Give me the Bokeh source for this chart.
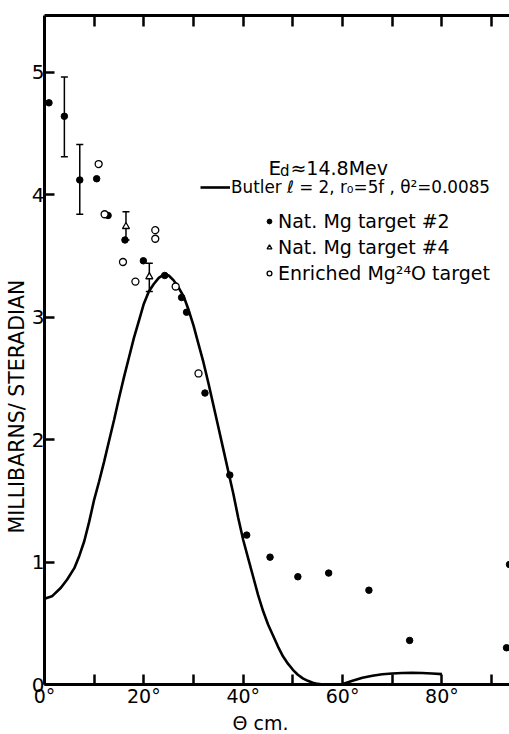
from bokeh.plotting import figure
from bokeh.models import (Range1d, LinearAxis, FixedTicker, Whisker, TeeHead,
                          ColumnDataSource, Legend, LegendItem, Label, Title)
from bokeh.embed import file_html
from bokeh.resources import INLINE

FONT = "DejaVu Sans"

# Nat. Mg target #2 (filled circles)
nat2_x = [0.9, 4.0, 7.1, 10.5, 12.8, 16.2, 19.9, 24.2, 27.6, 28.6, 32.3, 37.3,
          40.7, 45.4, 51.0, 57.2, 65.3, 73.5, 93.0, 93.6]
nat2_y = [4.75, 4.64, 4.12, 4.13, 3.83, 3.63, 3.46, 3.34, 3.16, 3.04, 2.38, 1.71,
          1.22, 1.04, 0.88, 0.91, 0.77, 0.36, 0.30, 0.98]
nat2_err_x = [4.0, 7.1]
nat2_err_lo = [4.31, 3.84]
nat2_err_hi = [4.96, 4.41]

# Nat. Mg target #4 (open triangles)
nat4_x = [16.4, 21.1]
nat4_y = [3.74, 3.33]
nat4_err_lo = [3.63, 3.21]
nat4_err_hi = [3.86, 3.44]

# Enriched Mg24O target (open circles)
enr_x = [10.9, 12.1, 15.8, 18.3, 22.3, 22.3, 26.4, 31.0]
enr_y = [4.25, 3.84, 3.45, 3.29, 3.71, 3.64, 3.25, 2.54]

# Butler l=2 curve
butler_x = [0, 1.5, 3.3, 4.6, 6.0, 7.0, 8.0, 9.0, 10.0, 11.0, 12.0, 13.0, 14.0,
            15.0, 16.0, 17.0, 18.0, 19.0, 20.0, 21.0, 22.0, 23.0, 24.1, 25.0,
            26.0, 27.0, 28.0, 29.0, 30.0, 31.0, 32.0, 33.0, 34.0, 35.0, 36.0,
            37.0, 38.0, 39.0, 40.0, 41.0, 42.0, 43.0, 44.0, 45.0, 46.0, 47.0,
            48.0, 49.0, 50.0, 51.0, 52.0, 53.0, 54.0, 55.0, 56.0, 59.8, 60.5,
            62.0, 64.0, 66.0, 68.0, 70.0, 72.0, 74.0, 76.0, 78.0, 80.0]
butler_y = [0.70, 0.72, 0.79, 0.86, 0.95, 1.05, 1.17, 1.33, 1.51, 1.66, 1.82,
            1.99, 2.16, 2.34, 2.51, 2.67, 2.83, 2.97, 3.11, 3.21, 3.27, 3.32,
            3.35, 3.34, 3.30, 3.24, 3.17, 3.06, 2.93, 2.78, 2.63, 2.46, 2.28,
            2.10, 1.92, 1.74, 1.56, 1.36, 1.18, 1.03, 0.88, 0.73, 0.60, 0.49,
            0.40, 0.31, 0.23, 0.17, 0.12, 0.08, 0.05, 0.03, 0.015, 0.005, 0.0,
            0.0, 0.01, 0.03, 0.055, 0.072, 0.084, 0.090, 0.094, 0.095, 0.094,
            0.090, 0.085]

x_ticks = [0, 10, 20, 30, 40, 50, 60, 70, 80, 90]
x_tick_labels = {0: "0°", 10: "", 20: "20°", 30: "", 40: "40°", 50: "",
                 60: "60°", 70: "", 80: "80°", 90: ""}
y_ticks = [0, 1, 2, 3, 4, 5]

p = figure(width=509, height=734,
           x_range=Range1d(0, 93.6), y_range=Range1d(0, 5.463),
           output_backend="svg", toolbar_location=None,
           min_border_left=44, min_border_top=15, min_border_right=0,
           min_border_bottom=50, background_fill_color="white",
           border_fill_color="white")
p.grid.visible = False
p.outline_line_color = None

xa = p.xaxis[0]
xa.ticker = FixedTicker(ticks=x_ticks)
xa.major_label_overrides = x_tick_labels
ya = p.yaxis[0]
ya.ticker = FixedTicker(ticks=y_ticks)

for ax in (xa, ya):
    ax.axis_line_width = 3
    ax.major_tick_line_width = 2.5
    ax.major_tick_in = 10
    ax.major_tick_out = 0
    ax.minor_tick_line_color = None
    ax.major_label_text_font = FONT
    ax.major_label_text_font_size = "20px"
    ax.major_label_text_color = "black"
xa.major_label_text_font_size = "19px"
xa.major_label_standoff = 0
ya.major_label_standoff = 0

top = LinearAxis(ticker=FixedTicker(ticks=x_ticks[1:]), axis_line_width=3,
                 major_tick_line_width=2.5, major_tick_in=11, major_tick_out=0,
                 minor_tick_line_color=None, major_label_text_alpha=0,
                 major_label_text_font_size="1px", major_label_standoff=0)
p.add_layout(top, "above")

p.add_layout(Title(text="MILLIBARNS/ STERADIAN", align="left", offset=151,
                   text_font=FONT, text_font_size="20.5px", text_font_style="normal",
                   text_color="black", standoff=0), "left")
p.add_layout(Title(text="Θ cm.", align="left", offset=188,
                   text_font=FONT, text_font_size="19px", text_font_style="normal",
                   text_color="black", standoff=0), "below")

curve = p.line(butler_x, butler_y, line_color="black", line_width=2.6)

p.add_layout(Whisker(source=ColumnDataSource(dict(x=nat2_err_x, lo=nat2_err_lo, hi=nat2_err_hi)),
                     base="x", lower="lo", upper="hi", line_width=1.5,
                     upper_head=TeeHead(size=7, line_width=1.5),
                     lower_head=TeeHead(size=7, line_width=1.5)))
p.add_layout(Whisker(source=ColumnDataSource(dict(x=nat4_x, lo=nat4_err_lo, hi=nat4_err_hi)),
                     base="x", lower="lo", upper="hi", line_width=1.5,
                     upper_head=TeeHead(size=7, line_width=1.5),
                     lower_head=TeeHead(size=7, line_width=1.5)))

r_nat2 = p.scatter(nat2_x, nat2_y, marker="circle", size=6.5,
                   fill_color="black", line_color="black")
r_nat4 = p.scatter(nat4_x, nat4_y, marker="triangle", size=7,
                   fill_color="white", line_color="black", line_width=1.3)
r_enr = p.scatter(enr_x, enr_y, marker="circle", size=7,
                  fill_color="white", line_color="black", line_width=1.3)

leg1 = Legend(items=[LegendItem(label="Butler ℓ = 2, r₀=5f , θ²=0.0085", renderers=[curve])],
              location=(156, 484), glyph_width=30, glyph_height=26, label_height=26,
              label_standoff=1, padding=0, margin=0, spacing=0,
              border_line_color=None, background_fill_alpha=0,
              label_text_font=FONT, label_text_font_size="16.8px",
              label_text_color="black")
leg2 = Legend(items=[LegendItem(label="Nat. Mg target #2", renderers=[r_nat2]),
                     LegendItem(label="Nat. Mg target #4", renderers=[r_nat4]),
                     LegendItem(label="Enriched Mg²⁴O target", renderers=[r_enr])],
              location=(219, 398), glyph_width=12, glyph_height=26, label_height=26,
              label_standoff=3, padding=0, margin=0, spacing=0,
              border_line_color=None, background_fill_alpha=0,
              label_text_font=FONT, label_text_font_size="19px",
              label_text_color="black")
p.add_layout(leg1, "center")
p.add_layout(leg2, "center")

p.add_layout(Label(x=45.1, y=4.221, text="E", text_font=FONT, text_font_size="20px",
                   text_baseline="middle", text_color="black"))
p.add_layout(Label(x=47.4, y=4.19, text="d", text_font=FONT, text_font_size="15px",
                   text_baseline="middle", text_color="black"))
p.add_layout(Label(x=49.5, y=4.221, text="≈14.8Mev", text_font=FONT, text_font_size="19px",
                   text_baseline="middle", text_color="black"))

open("out.html", "w").write(file_html(p, INLINE))
